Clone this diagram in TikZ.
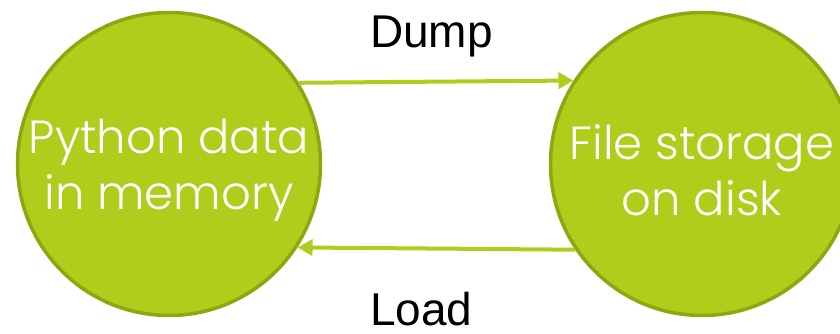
\documentclass[tikz,border=0pt]{standalone}
\usepackage{fontspec}
\setmainfont{Liberation Sans}
\newfontfamily\bubblefont{Poppins}[UprightFont=* Light]
\usetikzlibrary{arrows.meta}
\definecolor{leaf}{HTML}{AFCD1A}
\definecolor{leafdark}{HTML}{8DA710}
\tikzset{
  bubble/.style={circle, fill=leaf, draw=leafdark, line width=3.5pt,
    minimum size=303pt, inner sep=0pt},
  bubbletext/.style={inner sep=0pt, text=white, align=center,
    font=\bubblefont\fontsize{46.5}{56}\selectfont},
  flow/.style={draw=leaf, line width=4pt,
    -{Triangle[length=15pt,width=16pt]}},
  caption/.style={anchor=base west, inner sep=0pt,
    font=\fontsize{46}{50}\selectfont}
}
\begin{document}
\begin{tikzpicture}[x=1pt,y=1pt]
  \useasboundingbox (0,0) rectangle (840,334);
  \node[bubble] (mem) at (169,170) {};
  \node[bubble] (disk) at (702,170) {};
  \node[bubbletext] (memtext) at ([yshift=-6pt]mem.center) {Python data\\in memory};
  \node[bubbletext] (disktext) at ([yshift=-6pt]disk.center) {File storage\\on disk};
  \draw[flow] (mem.32.7) -- (disk.147.3);
  \draw[flow] (disk.-146.4) -- (mem.-33.6);
  \node[caption] (dump) at (370,286) {Dump};
  \node[caption] (load) at (370,8) {Load};
\end{tikzpicture}
\end{document}
